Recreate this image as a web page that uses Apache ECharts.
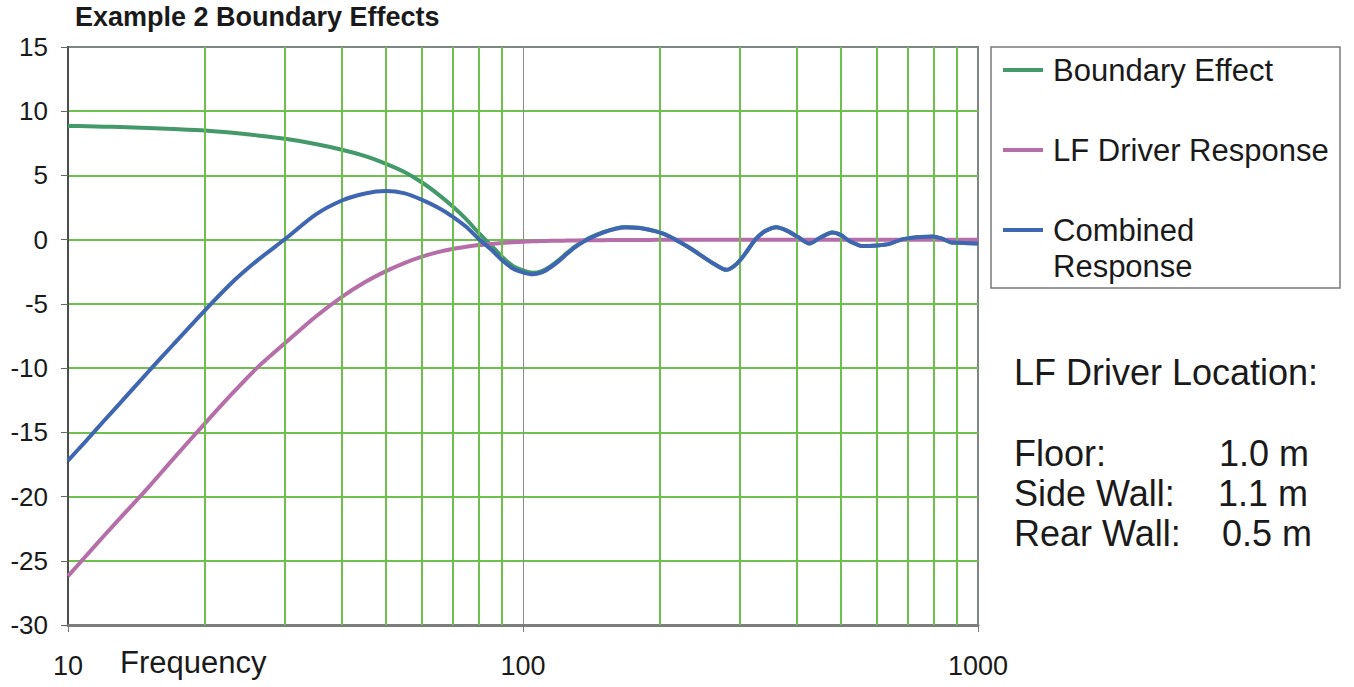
<!DOCTYPE html>
<html>
<head>
<meta charset="utf-8">
<title>Example 2 Boundary Effects</title>
<script src="https://cdn.jsdelivr.net/npm/echarts@6/dist/echarts.min.js"></script>
<style>
  html, body { margin: 0; padding: 0; background: #fff; }
  #main { width: 1354px; height: 687px; }
</style>
</head>
<body>
<div id="main"></div>
<script>
// frequency points (Hz)
var freq = [10, 11, 12, 13, 15, 17, 20, 23, 26, 30,
    35, 40, 45, 50, 55, 60, 65, 70, 75, 80,
    85, 90, 95, 100, 105, 110, 115, 120, 125, 130,
    136, 140, 150, 160, 168, 180, 190, 200, 210, 220,
    233, 248, 262, 280, 290, 300, 312, 324, 340, 361,
    380, 402, 426, 450, 478, 500, 516, 536, 556, 600,
    636, 670, 701, 750, 795, 830, 870, 930, 1000];

var boundary = [8.85, 8.83, 8.8, 8.77, 8.7, 8.62, 8.5, 8.32, 8.12, 7.85,
    7.45, 7.0, 6.5, 5.9, 5.25, 4.45, 3.55, 2.6, 1.6, 0.5,
    -0.42, -1.34, -2.05, -2.39, -2.57, -2.44, -2.06, -1.57, -1.03, -0.54,
    -0.1, 0.15, 0.59, 0.88, 0.98, 0.92, 0.77, 0.56, 0.25, -0.15,
    -0.67, -1.3, -1.85, -2.35, -2.1, -1.6, -0.8, 0.0, 0.65, 0.97,
    0.7, 0.2, -0.3, 0.15, 0.55, 0.35, 0.0, -0.3, -0.5, -0.45,
    -0.35, -0.05, 0.1, 0.2, 0.25, 0.1, -0.2, -0.25, -0.3];

var lfDriver = [-26.2, -24.55, -23.05, -21.7, -19.3, -17.1, -14.3, -11.95, -10.0, -8.05,
    -6.0, -4.45, -3.3, -2.45, -1.8, -1.32, -0.97, -0.72, -0.55, -0.42,
    -0.33, -0.26, -0.2, -0.16, -0.13, -0.11, -0.09, -0.08, -0.07, -0.06,
    -0.05, -0.05, -0.04, -0.03, -0.03, -0.02, -0.02, -0.01, 0, 0,
    0, 0, 0, 0, 0, 0, 0, 0, 0, 0,
    0, 0, 0, 0, 0, 0, 0, 0, 0, 0,
    0, 0, 0, 0, 0, 0, 0, 0, 0];

var combined = [-17.2, -15.6, -14.1, -12.75, -10.3, -8.2, -5.5, -3.3, -1.65, 0.05,
    1.95, 3.05, 3.6, 3.78, 3.6, 3.1, 2.5, 1.8, 1.0, 0.05,
    -0.75, -1.6, -2.25, -2.55, -2.7, -2.55, -2.15, -1.65, -1.1, -0.6,
    -0.15, 0.1, 0.55, 0.85, 0.95, 0.9, 0.75, 0.55, 0.25, -0.15,
    -0.67, -1.3, -1.85, -2.35, -2.1, -1.6, -0.8, 0.0, 0.65, 0.97,
    0.7, 0.2, -0.3, 0.15, 0.55, 0.35, 0.0, -0.3, -0.5, -0.45,
    -0.35, -0.05, 0.1, 0.2, 0.25, 0.1, -0.2, -0.25, -0.3];

var seriesNames = ['Boundary Effect', 'LF Driver Response', 'Combined Response'];
var seriesColors = ['#44996a', '#b56ea8', '#3f66b0'];

// minor vertical grid lines of the log axis
var gridFreqs = [20, 30, 40, 50, 60, 70, 80, 90, 200, 300, 400, 500, 600, 700, 800, 900];

var yMin = -30, yMax = 15, yStep = 5;

var FONT = 'Liberation Sans, Arial, sans-serif';

function pairs(values) {
    var out = [];
    for (var i = 0; i < freq.length; i++) {
        out.push([freq[i], values[i]]);
    }
    return out;
}

var allValues = [boundary, lfDriver, combined];
var series = [];

// dummy series only to hold the minor grid lines, drawn under the curves
series.push({
    name: 'grid',
    type: 'line',
    data: [],
    z: 1,
    silent: true,
    markLine: {
        silent: true,
        symbol: 'none',
        label: { show: false },
        animation: false,
        lineStyle: { color: '#6dbf4e', width: 2, type: 'solid' },
        data: gridFreqs.map(function (f) { return { xAxis: f }; })
    }
});

for (var s = 0; s < seriesNames.length; s++) {
    series.push({
        name: seriesNames[s],
        type: 'line',
        data: pairs(allValues[s]),
        smooth: 0.25,
        showSymbol: false,
        symbol: 'none',
        z: 3 + s,
        lineStyle: { color: seriesColors[s], width: 4 },
        itemStyle: { color: seriesColors[s] }
    });
}

function txt(str, x, y, size, bold) {
    return {
        type: 'text', x: x, y: y,
        style: { text: str, fill: '#1a1a1a', font: (bold ? 'bold ' : '') + size + 'px ' + FONT, verticalAlign: 'middle' }
    };
}

var option = {
    animation: false,
    backgroundColor: '#fff',
    textStyle: { fontFamily: FONT },
    grid: {
        left: 68, right: 376, top: 47, bottom: 62,
        show: true,
        borderColor: '#808585',
        borderWidth: 2,
        backgroundColor: '#fff'
    },
    legend: {
        orient: 'vertical',
        left: 1003,
        top: 52,
        padding: 0,
        itemGap: 44,
        itemWidth: 40,
        itemHeight: 4,
        icon: 'rect',
        data: seriesNames,
        formatter: function (name) {
            return name == 'Combined Response' ? 'Combined' : name;
        },
        textStyle: { fontSize: 31, lineHeight: 36, color: '#1a1a1a', fontFamily: FONT, padding: [0, 0, 0, 5] }
    },
    xAxis: {
        type: 'log',
        logBase: 10,
        min: 10,
        max: 1000,
        axisLine: { show: true, onZero: false, lineStyle: { color: '#7d7d7d', width: 3 } },
        axisTick: { show: true, length: 7, lineStyle: { color: '#777', width: 1 } },
        axisLabel: {
            fontSize: 27, margin: 27, color: '#1a1a1a', fontFamily: FONT,
            formatter: function (v) { return String(Math.round(v)); }
        },
        splitLine: { show: true, showMinLine: false, showMaxLine: false, lineStyle: { color: '#8c8c8c', width: 1 } }
    },
    yAxis: {
        type: 'value',
        min: yMin,
        max: yMax,
        interval: yStep,
        axisLine: { show: true, lineStyle: { color: '#4d4d4d', width: 2 } },
        axisTick: { show: true, length: 7, lineStyle: { color: '#666', width: 1 } },
        axisLabel: { fontSize: 26, margin: 20, color: '#1a1a1a', fontFamily: FONT },
        splitLine: { show: true, showMinLine: false, showMaxLine: false, lineStyle: { color: '#6dbf4e', width: 2 } }
    },
    graphic: [
        { type: 'rect', shape: { x: 991, y: 47, width: 349, height: 241 },
          style: { fill: 'none', stroke: '#7a7a7a', lineWidth: 1.5 }, z: 0 },
        txt('Example 2 Boundary Effects', 75, 17, 27, true),
        txt('Frequency', 120, 662, 31),
        txt('Response', 1053, 266, 31),
        txt('LF Driver Location:', 1014, 372, 36),
        txt('Floor:', 1014, 453, 36),
        txt('1.0 m', 1219, 453, 36),
        txt('Side Wall:', 1014, 493, 36),
        txt('1.1 m', 1218, 493, 36),
        txt('Rear Wall:', 1014, 533, 36),
        txt('0.5 m', 1222, 533, 36)
    ],
    series: series
};

var myChart = echarts.init(document.getElementById('main'), null, { renderer: 'svg' });
myChart.setOption(option);
</script>
</body>
</html>
